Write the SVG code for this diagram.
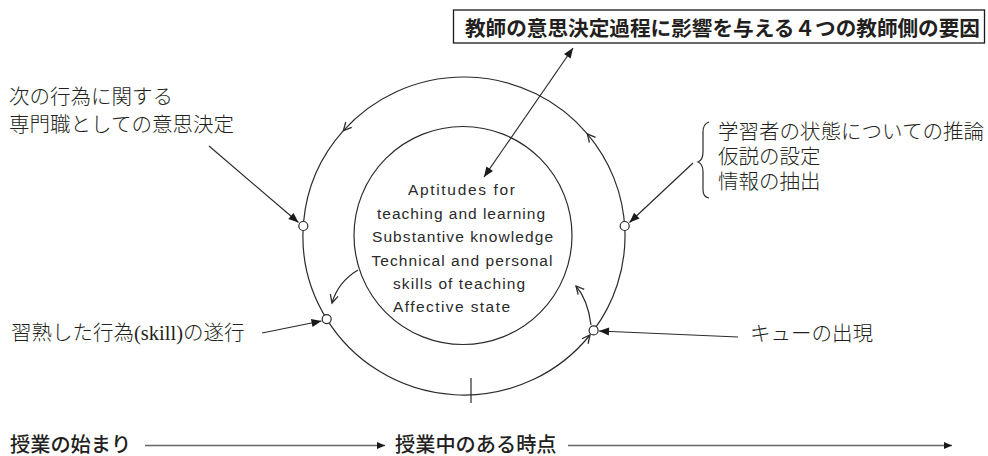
<svg xmlns="http://www.w3.org/2000/svg" width="988" height="456" viewBox="0 0 988 456">
<defs>
<style>
.ln{fill:none;stroke:#2b2b2b;stroke-width:1.2}
.cir{fill:none;stroke:#2b2b2b;stroke-width:1.2}
.node{fill:#fff;stroke:#2b2b2b;stroke-width:1.2}
.jp{font-family:"Liberation Serif","Noto Sans CJK JP",serif;font-size:20.5px;fill:#231f20;font-weight:300}
.go{font-family:"Noto Sans CJK JP",sans-serif;font-size:20.2px;fill:#231f20;font-weight:500}
.ttl{font-family:"Noto Sans CJK JP",sans-serif;font-size:20.8px;fill:#231f20;font-weight:700}
.en{font-family:"Liberation Sans",sans-serif;font-size:15.5px;fill:#2a2a2a;text-anchor:middle}
.tl{fill:none;stroke:#666;stroke-width:1.6}
</style>
<marker id="fa" markerUnits="userSpaceOnUse" markerWidth="11" markerHeight="9" refX="10" refY="4" orient="auto-start-reverse" overflow="visible">
<path d="M0,0 L10,4 L0,8 z" fill="#1a1a1a"/>
</marker>
<marker id="oa" markerUnits="userSpaceOnUse" markerWidth="10" markerHeight="10" refX="8" refY="4" orient="auto" overflow="visible">
<path d="M0,0 L8,4 L0,8" fill="none" stroke="#2b2b2b" stroke-width="1.3"/>
</marker>
<marker id="ta" markerUnits="userSpaceOnUse" markerWidth="9" markerHeight="8" refX="8" refY="3.5" orient="auto" overflow="visible">
<path d="M0,0 L8,3.5 L0,7 z" fill="#1a1a1a"/>
</marker>
</defs>

<g id="title">
<rect x="453.5" y="10" width="531" height="33" fill="#fff" stroke="#1a1a1a" stroke-width="1.3"/>
<text class="ttl" x="465" y="36" textLength="515" lengthAdjust="spacingAndGlyphs">教師の意思決定過程に影響を与える４つの教師側の要因</text>
</g>

<g id="connectors">
<path class="ln" d="M326.7,319.1 A161,159 0 0 0 590,335" marker-end="url(#oa)"/>
<path class="ln" d="M593.6,330.4 A161,159 0 0 0 587.3,133.8" marker-end="url(#oa)"/>
<path class="ln" d="M587.3,133.8 A161,159 0 0 0 343.4,130.6" marker-end="url(#oa)"/>
<path class="ln" d="M343.4,130.6 A161,159 0 0 0 326.7,319.1"/>
<line class="ln" x1="471" y1="378" x2="471" y2="403" stroke-width="1"/>
<path class="ln" d="M358,270 Q338,282 332,303" marker-end="url(#oa)"/>
<path class="ln" d="M591,325 Q588,300 576,286" marker-end="url(#oa)"/>
<line class="ln" x1="484" y1="177" x2="573" y2="48" marker-start="url(#fa)" marker-end="url(#fa)"/>
<line class="ln" x1="209" y1="146" x2="298.5" y2="222.5" marker-end="url(#fa)"/>
<line class="ln" x1="693" y1="163" x2="629.5" y2="222.5" marker-end="url(#fa)"/>
<line class="ln" x1="262" y1="333" x2="321.5" y2="321" marker-end="url(#fa)"/>
<line class="ln" x1="738" y1="337" x2="599" y2="331" marker-end="url(#fa)"/>
<path class="ln" d="M709,122 Q703,124 703,132 L703,152 Q703,160 698,162 Q703,164 703,172 L703,190 Q703,197 709,198" stroke-width="1.3"/>
<line class="tl" x1="145" y1="445.5" x2="385" y2="445.5" marker-end="url(#ta)"/>
<line class="tl" x1="568" y1="445.5" x2="952" y2="445.5" marker-end="url(#ta)"/>
</g>

<g id="inner">
<circle class="cir" cx="463" cy="235.5" r="109"/>
<text class="en" x="461.5" y="195" textLength="107" lengthAdjust="spacing">Aptitudes for</text>
<text class="en" x="461" y="218.5" textLength="168" lengthAdjust="spacing">teaching and learning</text>
<text class="en" x="462.5" y="242" textLength="181" lengthAdjust="spacing">Substantive knowledge</text>
<text class="en" x="462" y="265.5" textLength="181" lengthAdjust="spacing">Technical and personal</text>
<text class="en" x="459" y="289" textLength="132" lengthAdjust="spacing">skills of teaching</text>
<text class="en" x="451.5" y="312" textLength="117" lengthAdjust="spacing">Affective state</text>
</g>

<g id="node-decision">
<circle class="node" cx="303.3" cy="226" r="4.5"/>
<text class="jp" x="9" y="103.5">次の行為に関する</text>
<text class="jp" x="9" y="131.5">専門職としての意思決定</text>
</g>

<g id="node-info">
<circle class="node" cx="624.7" cy="226" r="4.5"/>
<text class="jp" x="718" y="138.5">学習者の状態についての推論</text>
<text class="jp" x="718" y="163.5">仮説の設定</text>
<text class="jp" x="718" y="188.5">情報の抽出</text>
</g>

<g id="node-skill">
<circle class="node" cx="326.7" cy="319.1" r="4.5"/>
<text class="jp" x="11" y="340">習熟した行為(skill)の遂行</text>
</g>

<g id="node-cue">
<circle class="node" cx="593.6" cy="330.4" r="4.5"/>
<text class="jp" x="750" y="341">キューの出現</text>
</g>

<g id="timeline">
<text class="go" x="10" y="451.5">授業の始まり</text>
<text class="go" x="395" y="451.5">授業中のある時点</text>
</g>
</svg>
